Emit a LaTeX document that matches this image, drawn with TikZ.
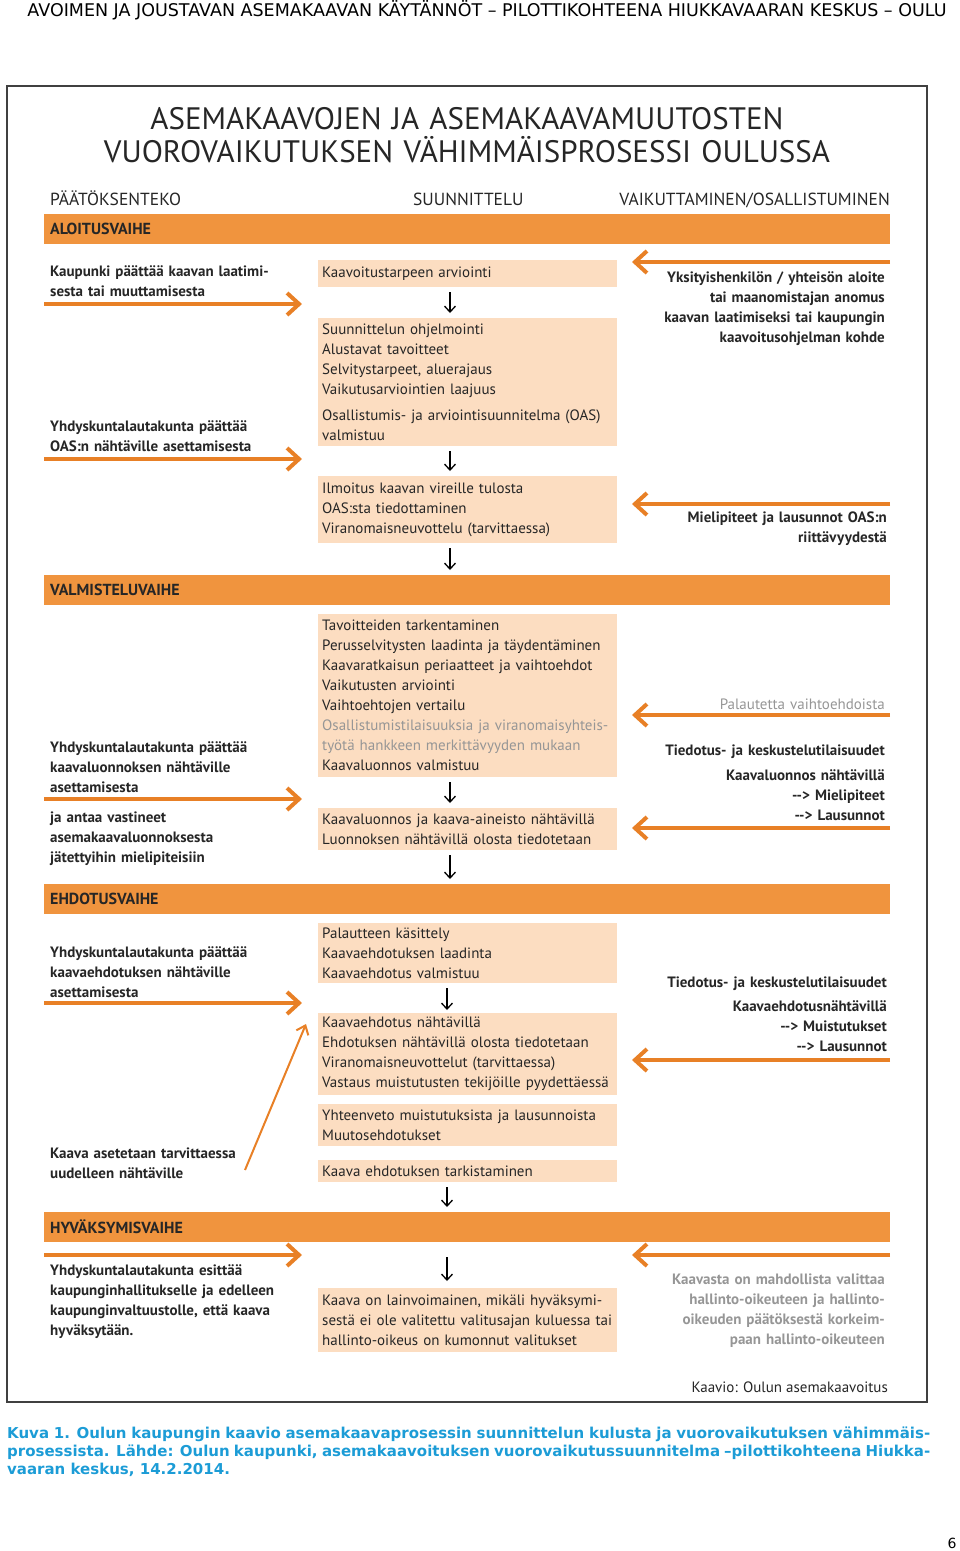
\documentclass[tikz,border=0pt]{standalone}
\usepackage{fontspec}
\setmainfont{PT Sans}
\newfontfamily\titlefont{PT Sans}
\newfontfamily\headfont{DejaVu Sans}
\newfontfamily\capfont{DejaVu Sans}
\usetikzlibrary{arrows.meta,positioning}

\definecolor{bandorange}{RGB}{240,148,62}
\definecolor{arroworange}{RGB}{232,128,38}
\definecolor{peach}{RGB}{252,221,193}
\definecolor{softgray}{RGB}{150,150,150}
\definecolor{captionblue}{RGB}{28,156,214}
\newcommand\bodysize{\fontsize{15}{20}\selectfont}

\tikzset{
  band/.style={fill=bandorange, anchor=north west, inner xsep=6pt, inner ysep=0pt,
    minimum height=30pt, text width=834pt, align=left,
    font=\bfseries\fontsize{16}{18}\selectfont, text=black!85},
  planbox/.style={fill=peach, anchor=north west, inner xsep=4pt, inner ysep=0pt,
    text width=291pt, align=left, font=\bodysize, text=black!85},
  decide/.style={anchor=base west, inner sep=0pt, text width=260pt, align=left,
    font=\bfseries\bodysize, text=black!85},
  voice/.style={anchor=base east, inner sep=0pt, text width=260pt, align=right,
    font=\bfseries\bodysize, text=black!85},
  colhead/.style={inner sep=0pt, font=\fontsize{17.5}{20}\selectfont, text=black!85},
  stepdown/.style={-{Straight Barb[length=6pt,width=11pt]}, line width=1.3pt,
    shorten <=5pt, shorten >=5pt},
  pushright/.style={-{Straight Barb[length=12pt,width=22pt]}, line width=4pt, draw=arroworange},
  pushleft/.style={pushright}
}

\begin{document}
\begin{tikzpicture}[x=1pt,y=-1pt]
  \useasboundingbox (0,0) rectangle (960,1551);
  \def\lx{44}   % left arrows start
  \def\lxe{302} % left arrows tip
  \def\rx{890}  % right arrows start
  \def\rxe{632} % right arrows tip

  % page header and frame
  \node (pagehead) at (487,16)[anchor=base, inner sep=0pt, font=\headfont\fontsize{17.5}{20}\selectfont]
    {AVOIMEN JA JOUSTAVAN ASEMAKAAVAN KÄYTÄNNÖT – PILOTTIKOHTEENA HIUKKAVAARAN KESKUS – OULU};
  \draw[line width=2pt, draw=black!75] (7,86) rectangle (927,1402);

  % title
  \node (title) at (467,129)[anchor=base, inner sep=0pt, text width=800pt, align=center,
    font=\titlefont\fontsize{31}{33}\selectfont, text=black!85]
    {ASEMAKAAVOJEN JA ASEMAKAAVAMUUTOSTEN\\VUOROVAIKUTUKSEN VÄHIMMÄISPROSESSI OULUSSA};

  % column heads
  \node[colhead] (hpaatos) at (50,205)[anchor=base west] {PÄÄTÖKSENTEKO};
  \node[colhead] (hsuunn) at (413,205)[anchor=base west] {SUUNNITTELU};
  \node[colhead] (hvaik) at (890,205)[anchor=base east] {VAIKUTTAMINEN/OSALLISTUMINEN};

  % phase bands
  \node[band] (aloitus) at (44,214) {ALOITUSVAIHE};
  \node[band] (valmistelu) at (44,575) {VALMISTELUVAIHE};
  \node[band] (ehdotus) at (44,884) {EHDOTUSVAIHE};
  \node[band] (hyvaksy) at (44,1212) {HYVÄKSYMISVAIHE};

  % planning boxes
  \node[planbox, minimum height=27pt] (tarve) at (318,260) {Kaavoitustarpeen arviointi};
  \node[planbox, minimum height=128pt] (ohjelma) at (318,318)
    {Suunnittelun ohjelmointi\\Alustavat tavoitteet\\Selvitystarpeet, aluerajaus\\Vaikutusarviointien laajuus\\[6pt]Osallistumis- ja arviointisuunnitelma (OAS)\\valmistuu};
  \node[planbox, minimum height=67pt] (ilmoitus) at (318,476)
    {Ilmoitus kaavan vireille tulosta\\OAS:sta tiedottaminen\\Viranomaisneuvottelu (tarvittaessa)};
  \node[planbox, minimum height=163pt] (tarkennus) at (318,614)
    {Tavoitteiden tarkentaminen\\Perusselvitysten laadinta ja täydentäminen\\Kaavaratkaisun periaatteet ja vaihtoehdot\\Vaikutusten arviointi\\Vaihtoehtojen vertailu\\\textcolor{softgray}{Osallistumistilaisuuksia ja viranomaisyhteis-}\\\textcolor{softgray}{työtä hankkeen merkittävyyden mukaan}\\Kaavaluonnos valmistuu};
  \node[planbox, minimum height=42pt] (luonnos) at (318,808)
    {Kaavaluonnos ja kaava-aineisto nähtävillä\\Luonnoksen nähtävillä olosta tiedotetaan};
  \node[planbox, minimum height=60pt] (palaute) at (318,923)
    {Palautteen käsittely\\Kaavaehdotuksen laadinta\\Kaavaehdotus valmistuu};
  \node[planbox, minimum height=82pt] (nahtava) at (318,1013)
    {Kaavaehdotus nähtävillä\\Ehdotuksen nähtävillä olosta tiedotetaan\\Viranomaisneuvottelut (tarvittaessa)\\Vastaus muistutusten tekijöille pyydettäessä};
  \node[planbox, minimum height=42pt] (yhteenveto) at (318,1104)
    {Yhteenveto muistutuksista ja lausunnoista\\Muutosehdotukset};
  \node[planbox, minimum height=22pt] (tarkistus) at (318,1160) {Kaava ehdotuksen tarkistaminen};
  \node[planbox, minimum height=64pt] (lainvoima) at (318,1288)
    {Kaava on lainvoimainen, mikäli hyväksymi-\\sestä ei ole valitettu valitusajan kuluessa tai\\hallinto-oikeus on kumonnut valitukset};

  % flow down the middle column
  \coordinate (ax) at (450,0);
  \coordinate (bx) at (447,0);
  \draw[stepdown] (tarve.south -| ax) -- (ohjelma.north -| ax);
  \draw[stepdown] (ohjelma.south -| ax) -- (ilmoitus.north -| ax);
  \draw[stepdown] (ilmoitus.south -| ax) -- (valmistelu.north -| ax);
  \draw[stepdown] (tarkennus.south -| ax) -- (luonnos.north -| ax);
  \draw[stepdown] (luonnos.south -| ax) -- (ehdotus.north -| ax);
  \draw[stepdown, shorten >=3pt] (palaute.south -| bx) -- (nahtava.north -| bx);
  \draw[stepdown] (tarkistus.south -| bx) -- (hyvaksy.north -| bx);
  \draw[stepdown, shorten <=15pt, shorten >=7pt] (hyvaksy.south -| bx) -- (lainvoima.north -| bx);

  % decision making, left column
  \node[decide] (dec1) at (50,276) {Kaupunki päättää kaavan laatimi-\\sesta tai muuttamisesta};
  \node[decide] (dec2) at (50,431) {Yhdyskuntalautakunta päättää\\OAS:n nähtäville asettamisesta};
  \node[decide] (dec3) at (50,752) {Yhdyskuntalautakunta päättää\\kaavaluonnoksen nähtäville\\asettamisesta};
  \node[decide] (dec4) at (50,822) {ja antaa vastineet\\asemakaavaluonnoksesta\\jätettyihin mielipiteisiin};
  \node[decide] (dec5) at (50,957) {Yhdyskuntalautakunta päättää\\kaavaehdotuksen nähtäville\\asettamisesta};
  \node[decide] (dec6) at (50,1158) {Kaava asetetaan tarvittaessa\\uudelleen nähtäville};
  \node[decide] (dec7) at (50,1275) {Yhdyskuntalautakunta esittää\\kaupunginhallitukselle ja edelleen\\kaupunginvaltuustolle, että kaava\\hyväksytään.};

  % participation, right column
  \node[voice] (voi1) at (885,282) {Yksityishenkilön / yhteisön aloite\\tai maanomistajan anomus\\kaavan laatimiseksi tai kaupungin\\kaavoitusohjelman kohde};
  \node[voice] (voi2) at (887,522) {Mielipiteet ja lausunnot OAS:n\\riittävyydestä};
  \node[voice, font=\bodysize, text=softgray] (voi3) at (885,709) {Palautetta vaihtoehdoista};
  \node[voice] (voi4) at (885,755) {Tiedotus- ja keskustelutilaisuudet};
  \node[voice] (voi5) at (885,780) {Kaavaluonnos nähtävillä\\-{}-> Mielipiteet\\-{}-> Lausunnot};
  \node[voice] (voi6) at (887,987) {Tiedotus- ja keskustelutilaisuudet};
  \node[voice] (voi7) at (887,1011) {Kaavaehdotusnähtävillä\\-{}-> Muistutukset\\-{}-> Lausunnot};
  \node[voice, text=softgray] (voi8) at (885,1284) {Kaavasta on mahdollista valittaa\\hallinto-oikeuteen ja hallinto-\\oikeuden päätöksestä korkeim-\\paan hallinto-oikeuteen};

  % orange arrows into the planning column
  \foreach \n/\y in {1/304,2/459,3/799,4/1003,5/1255}{
    \coordinate (in\n) at (\lx,\y);
    \coordinate (to\n) at (\lxe,\y);
    \draw[pushright] (in\n) -- (to\n);
  }
  \foreach \n/\y in {1/262,2/504,3/715,4/828,5/1060,6/1255}{
    \coordinate (from\n) at (\rx,\y);
    \coordinate (back\n) at (\rxe,\y);
    \draw[pushleft] (from\n) -- (back\n);
  }
  \coordinate (againa) at (245,1170);
  \coordinate (againb) at (306,1024);
  \draw[-{Straight Barb[length=8pt,width=13pt]}, line width=2pt, draw=arroworange] (againa) -- (againb);

  % source and caption
  \node (source) at (888,1392)[anchor=base east, inner sep=0pt, font=\bodysize, text=black!85] {Kaavio: Oulun asemakaavoitus};
  \node (caption) at (7,1438)[anchor=base west, inner sep=0pt, text width=923pt, align=justify,
    font=\capfont\bfseries\fontsize{15}{18}\selectfont, text=captionblue]
    {Kuva 1. Oulun kaupungin kaavio asemakaavaprosessin suunnittelun kulusta ja vuorovaikutuksen vähimmäis-\linebreak prosessista. Lähde: Oulun kaupunki, asemakaavoituksen vuorovaikutussuunnitelma –pilottikohteena Hiukka-\linebreak vaaran keskus, 14.2.2014.};
  \node (pagenum) at (952,1548)[anchor=base, inner sep=0pt, font=\headfont\fontsize{14}{16}\selectfont] {6};
\end{tikzpicture}
\end{document}
